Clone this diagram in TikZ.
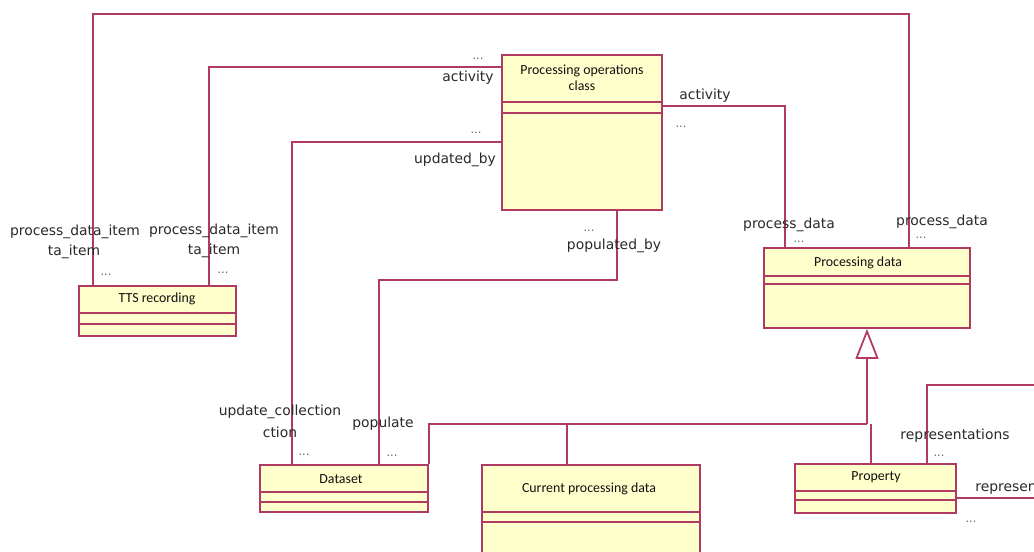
\documentclass[tikz,border=0pt]{standalone}
\usepackage{fontspec}
\newfontfamily\lblfont{DejaVu Sans}
\newfontfamily\clsfont{Carlito}
\usepackage{xcolor}
\definecolor{umlBorder}{HTML}{B03A62}
\definecolor{umlFill}{HTML}{FFFFCC}
\definecolor{umlText}{HTML}{101010}
\definecolor{roleGray}{HTML}{2A2A2A}
\usetikzlibrary{arrows.meta,fit,calc}
\tikzset{
    classbox/.style={
        draw=umlBorder,
        fill=umlFill,
        rectangle,
        inner sep=0pt,
        line width=1pt
    },
    divider/.style={
        draw=umlBorder,
        line width=1pt
    },
    clstitle/.style={
        font=\clsfont\fontsize{7.9}{9.2}\selectfont,
        text=umlText,
        align=center,
        inner sep=0pt
    },
    assoc/.style={
        draw=umlBorder,
        line width=1pt
    },
    gen/.style={
        assoc,
        -{Triangle[open, length=0.6cm, width=0.46cm]}
    },
    role/.style={
        font=\lblfont\fontsize{7.9}{9}\selectfont,
        text=roleGray,
        inner sep=0pt
    },
    mult/.style={
        font=\lblfont\fontsize{6.5}{8}\selectfont,
        text=black!60,
        inner sep=0pt
    }
}

\begin{document}
\begin{tikzpicture}[x=0.02cm, y=-0.02cm]
    \clip (0,0) rectangle (1034,551);
    \fill[white] (0,0) rectangle (1034,551);

    % classes
    \node[classbox, fit={(502,55) (662,210)}] (poc) {};
    \draw[divider] (poc.west |- 0,102) -- (poc.east |- 0,102);
    \draw[divider] (poc.west |- 0,113) -- (poc.east |- 0,113);
    \node[clstitle] (poc-t) at (582,78) {Processing operations\\class};

    \node[classbox, fit={(79,286) (236,336)}] (tts) {};
    \draw[divider] (tts.west |- 0,313) -- (tts.east |- 0,313);
    \draw[divider] (tts.west |- 0,324) -- (tts.east |- 0,324);
    \node[clstitle] (tts-t) at (157,299) {TTS recording};

    \node[classbox, fit={(764,248) (970,328)}] (pd) {};
    \draw[divider] (pd.west |- 0,276) -- (pd.east |- 0,276);
    \draw[divider] (pd.west |- 0,284) -- (pd.east |- 0,284);
    \node[clstitle] (pd-t) at (858,263) {Processing data};

    \node[classbox, fit={(260,465) (428,512)}] (ds) {};
    \draw[divider] (ds.west |- 0,492) -- (ds.east |- 0,492);
    \draw[divider] (ds.west |- 0,502) -- (ds.east |- 0,502);
    \node[clstitle] (ds-t) at (341,479) {Dataset};

    \node[classbox, fit={(482,465) (700,570)}] (cpd) {};
    \draw[divider] (cpd.west |- 0,512) -- (cpd.east |- 0,512);
    \draw[divider] (cpd.west |- 0,522) -- (cpd.east |- 0,522);
    \node[clstitle] (cpd-t) at (589,489) {Current processing data};

    \node[classbox, fit={(795,464) (956,513)}] (prop) {};
    \draw[divider] (prop.west |- 0,491) -- (prop.east |- 0,491);
    \draw[divider] (prop.west |- 0,500) -- (prop.east |- 0,500);
    \node[clstitle] (prop-t) at (876,477) {Property};

    % associations
    \draw[assoc] (93,0 |- tts.north) |- (909,14) -- (909,0 |- pd.north);
    \draw[assoc] (209,0 |- tts.north) |- (poc.west |- 0,67);
    \draw[assoc] (292,0 |- ds.north) |- (poc.west |- 0,142);
    \draw[assoc] (617,0 |- poc.south) -- (617,280) -| (379,0 |- ds.north);
    \draw[assoc] (poc.east |- 0,106) -| (785,0 |- pd.north);
    \draw[assoc] (927,0 |- prop.north) |- (1040,385);
    \draw[assoc] (prop.east |- 0,498) -- (1040,498);

    % generalization
    \coordinate (gj) at (pd.south |- 0,424);
    \draw[assoc] (ds.north east) |- (gj);
    \draw[assoc] (567,0 |- cpd.north) -- (567,424);
    \draw[assoc] (871,0 |- prop.north) -- (871,424);
    \draw[gen] (gj) -- (pd.south);

    % role names and multiplicities
    \node[mult] (m1) at (478,59) {...};
    \node[role] (r1) at (468,78) {activity};
    \node[mult] (m2) at (476,133) {...};
    \node[role] (r2) at (455,160) {updated\_by};
    \node[role] (r3) at (705,96) {activity};
    \node[mult] (m3) at (681,127) {...};
    \node[mult] (m4) at (589,231) {...};
    \node[role] (r4) at (614,246) {populated\_by};
    \node[role] (r5) at (789,225) {process\_data};
    \node[mult] (m5) at (799,242) {...};
    \node[role] (r6) at (942,222) {process\_data};
    \node[mult] (m6) at (921,238) {...};
    \node[role] (r7) at (75,232) {process\_data\_item};
    \node[role] (r7b) at (74,252) {ta\_item};
    \node[mult] (m7) at (106,275) {...};
    \node[role] (r8) at (214,231) {process\_data\_item};
    \node[role] (r8b) at (214,251) {ta\_item};
    \node[mult] (m8) at (223,273) {...};
    \node[role] (r9) at (280,412) {update\_collection};
    \node[role] (r9b) at (280,432) {ction};
    \node[mult] (m9) at (304,455) {...};
    \node[role] (r10) at (383,424) {populate};
    \node[mult] (m10) at (392,456) {...};
    \node[role] (r11) at (955,436) {representations};
    \node[mult] (m11) at (939,456) {...};
    \node[role, anchor=west] (r12) at (975,489) {represen};
    \node[mult] (m12) at (971,522) {...};
\end{tikzpicture}
\end{document}
